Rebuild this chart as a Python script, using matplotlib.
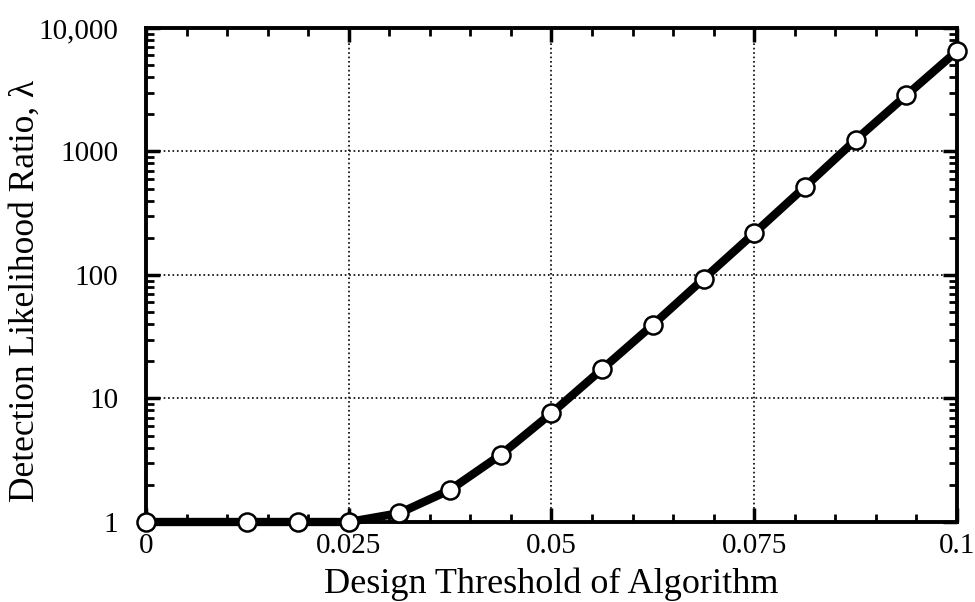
import matplotlib
matplotlib.use("Agg")
import matplotlib.pyplot as plt
from matplotlib.ticker import FixedLocator, MultipleLocator, LogLocator, NullFormatter

threshold = [0, 0.0125, 0.01875, 0.025, 0.03125, 0.0375, 0.04375, 0.05,
             0.05625, 0.0625, 0.06875, 0.075, 0.08125, 0.0875, 0.09375, 0.1]
ratio = [1.0, 1.0, 1.0, 1.0, 1.18, 1.82, 3.5, 7.6,
         17.3, 39.5, 93, 218, 517, 1240, 2850, 6500]
xticks = [0, 0.025, 0.05, 0.075, 0.1]
xticklabels = ["0", "0.025", "0.05", "0.075", "0.1"]
yticks = [1, 10, 100, 1000, 10000]
yticklabels = ["1", "10", "100", "1000", "10,000"]

plt.rcParams['font.family'] = ['Liberation Serif', 'DejaVu Serif']

fig = plt.figure(figsize=(9.75, 6.02), dpi=100)
ax = fig.add_axes([0.1497, 0.1329, 0.8318, 0.8206])

ax.plot(threshold, ratio, color='black', lw=6, marker='o', markersize=13,
        markerfacecolor='white', markeredgecolor='black', markeredgewidth=1.8,
        clip_on=False, zorder=3)

ax.set_yscale('log')
ax.set_xlim(0, 0.1)
ax.set_ylim(1, 10000)
ax.set_xticks(xticks)
ax.set_xticklabels(xticklabels)
ax.xaxis.set_minor_locator(MultipleLocator(0.005))
ax.yaxis.set_major_locator(FixedLocator(yticks))
ax.set_yticklabels(yticklabels)
ax.yaxis.set_minor_locator(LogLocator(base=10, subs=range(2, 10)))
ax.yaxis.set_minor_formatter(NullFormatter())

ax.tick_params(which='major', direction='in', length=10, width=2.5,
               top=True, right=True, labelsize=21)
ax.tick_params(axis='x', which='major', pad=8)
ax.tick_params(axis='y', which='major', pad=20)
ax.tick_params(which='minor', direction='in', length=6, width=2,
               top=True, right=True)
for s in ax.spines.values():
    s.set_linewidth(2.8)

ax.grid(True, which='major', linestyle=':', color='black', lw=1.2)

ax.set_xlabel("Design Threshold of Algorithm", fontsize=26)
ax.set_ylabel("Detection Likelihood Ratio, λ", fontsize=25.5)
ax.xaxis.set_label_coords(0.5, -0.093)
ax.yaxis.set_label_coords(-0.128, 0.4676)

fig.savefig("out.png", dpi=100)
